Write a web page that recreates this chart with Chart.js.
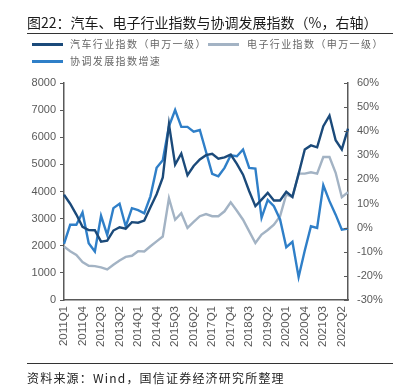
<!DOCTYPE html>
<html><head><meta charset="utf-8">
<script src="https://cdn.jsdelivr.net/npm/chart.js@4"></script>
<style>
html,body{margin:0;padding:0;background:#fff;width:403px;height:389px;overflow:hidden;}
#wrap{position:relative;width:403px;height:389px;}
canvas{position:absolute;left:0;top:0;}
.t{position:absolute;white-space:nowrap;font-family:"Noto Sans CJK SC","Noto Sans",sans-serif;}
#title{left:27px;top:12px;font-size:14px;color:#1a1a1a;line-height:20px;}
.rule{position:absolute;left:27px;width:366px;height:1px;background:#333;}
.lg{position:absolute;font-size:10px;letter-spacing:1.4px;color:#666;line-height:12px;font-family:"Noto Sans CJK SC",sans-serif;white-space:nowrap;}
.sw{position:absolute;height:2.5px;}
#src{left:27px;top:370px;font-size:12px;letter-spacing:1.2px;color:#222;line-height:16px;}
</style></head>
<body><div id="wrap">
<canvas id="c" width="403" height="389"></canvas>
<div class="t" id="title">图22：汽车、电子行业指数与协调发展指数（%，右轴）</div>
<div class="rule" style="top:33px"></div>
<div class="sw" style="left:32px;top:43px;width:31px;background:#1b4a7a"></div>
<div class="lg" style="left:70px;top:38px">汽车行业指数（申万一级）</div>
<div class="sw" style="left:208px;top:43px;width:31px;background:#a3b3c4"></div>
<div class="lg" style="left:247px;top:38px">电子行业指数（申万一级）</div>
<div class="sw" style="left:32px;top:60px;width:31px;background:#2f7fc8"></div>
<div class="lg" style="left:70px;top:55px">协调发展指数增速</div>
<div class="rule" style="top:363px"></div>
<div class="t" id="src">资料来源：Wind，国信证券经济研究所整理</div>
</div>
<script>
const quarters = [];
for (let y = 2011; y <= 2022; y++) for (let q = 1; q <= 4; q++) { if (y === 2022 && q > 3) break; quarters.push(y + 'Q' + q); }
const autoIndex = [3880,3550,3150,2700,2580,2570,2150,2190,2560,2680,
  2630,2870,2850,2930,3420,3900,4520,6480,4990,5400,
  4600,4940,5180,5340,5390,5210,5260,5360,5020,4620,
  4010,3460,3700,3950,3670,3670,3990,3800,4650,5550,
  5700,5630,6410,6800,5890,5550,6320];
const elecIndex = [1970,1800,1660,1400,1260,1250,1200,1130,1300,1460,
  1590,1630,1800,1790,1980,2160,2340,3750,2960,3200,
  2660,2880,3090,3170,3090,3090,3270,3600,3290,2960,
  2530,2100,2410,2580,2780,3090,3890,3790,4660,4660,
  4710,4660,5270,5270,4690,3790,3970];
const coordGrowth = [-6.7,1.2,1.2,6.3,-6.5,-9.9,4.9,-3.0,8.1,9.9,
  0.5,8.1,7.3,6.0,13.0,24.8,28.0,42.0,48.8,41.8,
  41.8,39.8,40.5,31.5,22.3,21.3,24.8,30.0,29.6,32.4,
  24.8,24.5,4.1,11.5,8.9,3.4,-8.1,-5.9,-20.5,-9.5,
  0.6,-0.1,17.6,11.0,5.4,-0.8,-0.4];
const seriesNames = ['汽车行业指数（申万一级）','电子行业指数（申万一级）','协调发展指数增速'];

const AX = '#595959';
const innerTicks = {
  id: 'innerTicks',
  afterDraw(chart) {
    const s = chart.scales.y1, ctx = chart.ctx;
    ctx.save(); ctx.strokeStyle = AX; ctx.lineWidth = 1;
    s.ticks.forEach(t => {
      const py = Math.round(s.getPixelForValue(t.value)) + 0.5;
      ctx.beginPath(); ctx.moveTo(s.left - 4, py); ctx.lineTo(s.left, py); ctx.stroke();
    });
    ctx.restore();
  }
};

new Chart(document.getElementById('c'), {
  type: 'line',
  data: {
    labels: quarters,
    datasets: [
      {label: seriesNames[0], data: autoIndex, yAxisID: 'y', borderColor: '#1b4a7a', borderWidth: 2.4, pointRadius: 0, tension: 0, order: 0},
      {label: seriesNames[1], data: elecIndex, yAxisID: 'y', borderColor: '#a3b3c4', borderWidth: 2.4, pointRadius: 0, tension: 0, order: 2},
      {label: seriesNames[2], data: coordGrowth, yAxisID: 'y1', borderColor: '#2f7fc8', borderWidth: 2.4, pointRadius: 0, tension: 0, order: 1}
    ]
  },
  options: {
    responsive: false, animation: false,
    layout: {padding: {top: 83, left: 0, right: 0, bottom: 0}},
    plugins: {legend: {display: false}, tooltip: {enabled: false}, title: {display: false}},
    scales: {
      x: {
        offset: false,
        grid: {display: false, drawTicks: false},
        border: {display: true, color: AX, width: 1.5},
        ticks: {autoSkip: false, maxRotation: 90, minRotation: 90, padding: 6, color: AX,
          font: {family: 'Liberation Sans, Arial', size: 11.5},
          callback: function(v, i) { return i % 3 === 0 ? this.getLabelForValue(v) : ''; }},
        afterFit: s => { s.height = 89; }
      },
      y: {
        position: 'left', min: 0, max: 8000,
        grid: {display: true, drawOnChartArea: false, drawTicks: true, tickLength: 4, color: AX},
        border: {display: true, color: AX, width: 1.5},
        ticks: {stepSize: 1000, padding: 4, color: AX, font: {family: 'Liberation Sans, Arial', size: 11},
          callback: v => String(v)},
        afterFit: s => { s.width = 64; }
      },
      y1: {
        position: 'right', min: -30, max: 60,
        grid: {display: false, drawTicks: false},
        border: {display: true, color: AX, width: 1.5},
        ticks: {stepSize: 10, padding: 9, color: AX, font: {family: 'Liberation Sans, Arial', size: 11},
          callback: v => v + '%'},
        afterFit: s => { s.width = 55; }
      }
    }
  },
  plugins: [innerTicks]
});
</script>
</body></html>
